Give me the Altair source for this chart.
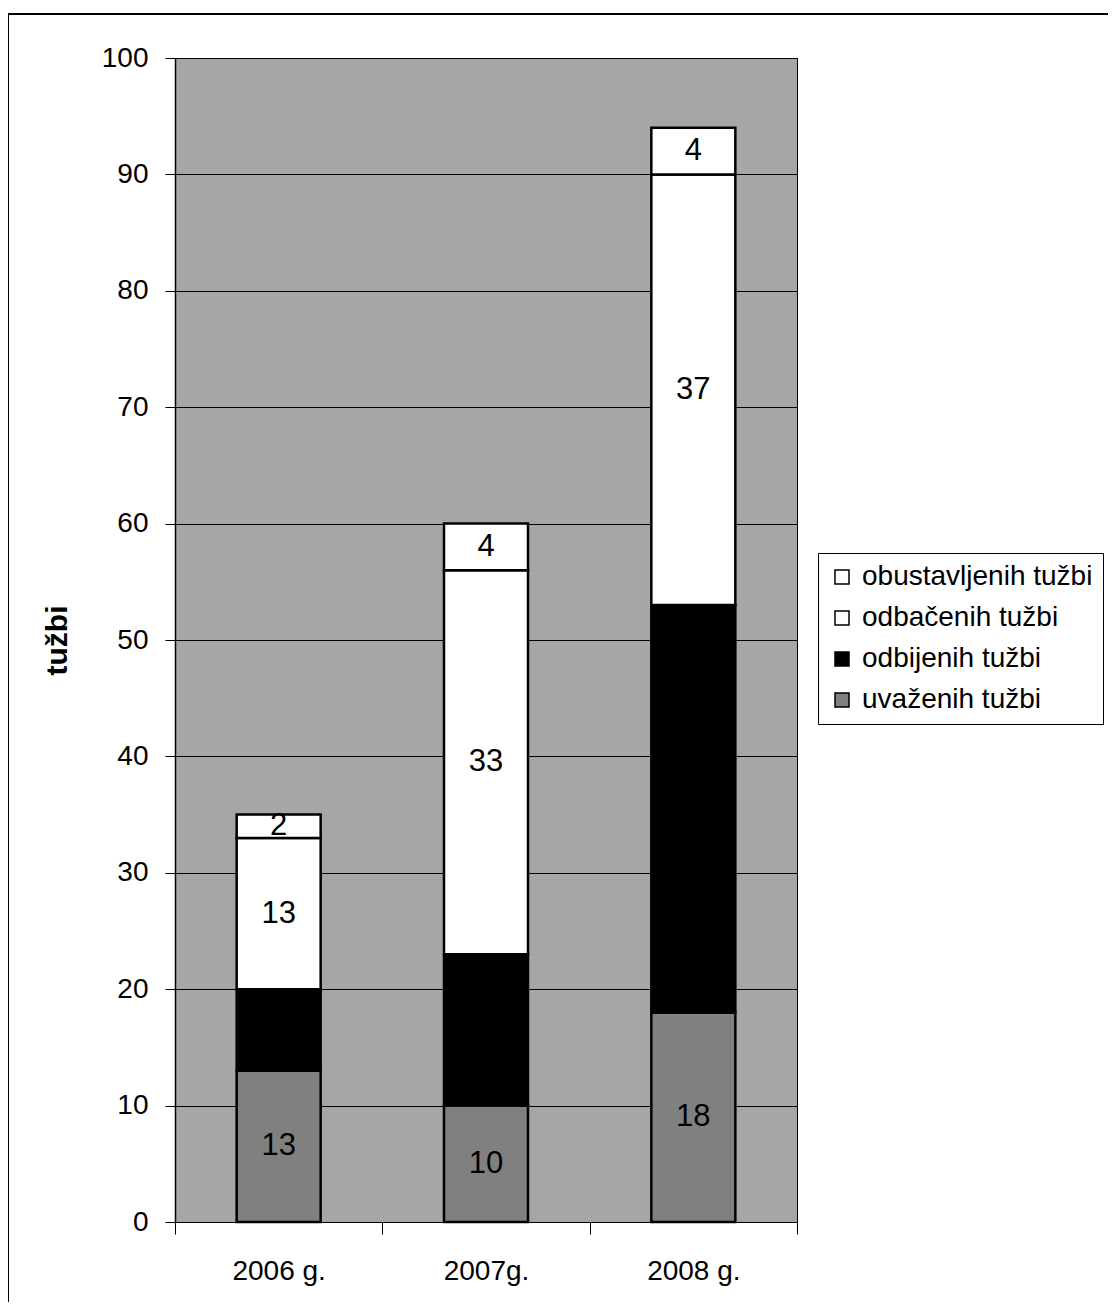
import altair as alt
import pandas as pd

years = ["2006 g.", "2007g.", "2008 g."]
series = ["obustavljenih tužbi", "odbačenih tužbi", "odbijenih tužbi", "uvaženih tužbi"]
uvazenih = [13, 10, 18]
odbijenih = [7, 13, 35]
odbacenih = [13, 33, 37]
obustavljenih = [2, 4, 4]
colors = ["#ffffff", "#ffffff", "#000000", "#808080"]

rows = []
for i, y in enumerate(years):
    for order, (name, vals) in enumerate([
        ("uvaženih tužbi", uvazenih),
        ("odbijenih tužbi", odbijenih),
        ("odbačenih tužbi", odbacenih),
        ("obustavljenih tužbi", obustavljenih),
    ]):
        rows.append({"year": y, "series": name, "value": vals[i], "ord": order})
df = pd.DataFrame(rows)

FONT = "Liberation Sans"

x_enc = alt.X("year:N", sort=years, title=None,
              scale=alt.Scale(paddingInner=0, paddingOuter=0),
              axis=alt.Axis(labelAngle=0, labelFontSize=28, labelColor="black",
                            tickBand="extent", tickSize=12, tickColor="black",
                            domainColor="black", labelPadding=23, grid=False))

bars = alt.Chart(df).mark_bar(size=84, stroke="black", strokeWidth=2.5).encode(
    x=x_enc,
    y=alt.Y("value:Q", stack="zero", title="tužbi",
            scale=alt.Scale(domain=[0, 100], nice=False),
            axis=alt.Axis(values=list(range(0, 101, 10)), labelFontSize=28,
                          labelColor="black", tickSize=10, tickColor="black",
                          domainColor="black", domainWidth=1.5, labelPadding=17,
                          grid=True, gridColor="black", gridOpacity=1, gridWidth=1,
                          titleFontSize=30, titleFontWeight="bold",
                          titleColor="black", titleAngle=-90,
                          titleX=-118, titleY=582, titleAlign="center",
                          titleBaseline="middle")),
    color=alt.Color("series:N", scale=alt.Scale(domain=series, range=colors),
                    legend=alt.Legend(title=None, orient="none", legendX=643, legendY=495,
                                      symbolType="square", symbolSize=196,
                                      symbolStrokeColor="black", symbolStrokeWidth=1.5,
                                      labelFontSize=28, labelColor="black",
                                      labelFont=FONT, rowPadding=13,
                                      fillColor="white", strokeColor="black",
                                      padding=10, labelOffset=6,
                                      labelLimit=400)),
    order=alt.Order("ord:Q", sort="ascending"),
)

labels = alt.Chart(df).transform_stack(
    stack="value", groupby=["year"], as_=["y0", "y1"],
    sort=[alt.SortField("ord", order="ascending")]
).transform_calculate(
    mid="(datum.y0 + datum.y1) / 2"
).mark_text(fontSize=31, color="black", font=FONT, baseline="middle").encode(
    x=alt.X("year:N", sort=years),
    y=alt.Y("mid:Q"),
    text="value:Q",
)

border = alt.Chart(df).mark_rect(fill="transparent", stroke="black",
                                 strokeWidth=1.5).encode(
    x=alt.value(-167), x2=alt.value(1000),
    y=alt.value(-44), y2=alt.value(1300),
)

chart = alt.layer(bars, labels, border).properties(
    width=622, height=1164,
    autosize=alt.AutoSizeParams(type="none"),
    padding={"left": 167, "top": 50, "right": 311, "bottom": 80},
    background="white",
).configure(
    font=FONT,
    view=alt.ViewConfig(fill="#a6a6a6", stroke="black", strokeWidth=1),
)

chart.save("out.html", embed_options={"renderer": "svg", "actions": False})
